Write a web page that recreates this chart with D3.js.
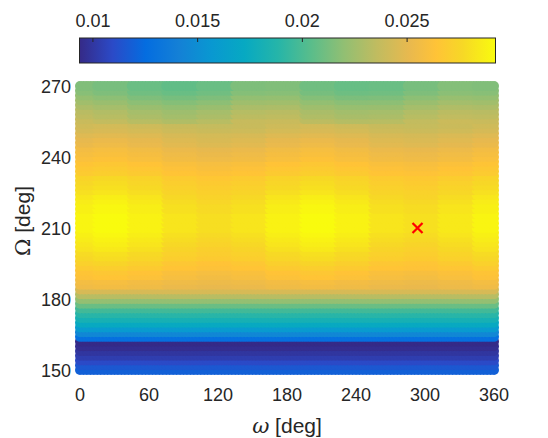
<!DOCTYPE html>
<html lang="en">
<head>
    <meta charset="UTF-8">
    <title>Omega / RAAN map</title>
    <script src="https://d3js.org/d3.v7.min.js"></script>
    <style>
        body { margin: 0; background: #fff; }
        svg text { font-family: Helvetica, "Liberation Sans", Arial, sans-serif; fill: #262626; }
    </style>
</head>
<body>
    <div id="chart"></div>
    <script>
        // grid of the map: columns in omega, rows in RAAN (deg)
        const OMEGA_COLS = [0, 30, 60, 90, 120, 150, 180, 210, 240, 270, 300, 330, 360];
        const RAAN_ROWS = [270, 268, 266, 264, 262, 260, 258, 256, 254, 252, 250, 248, 246, 244, 242, 240,
            238, 236, 234, 232, 230, 228, 226, 224, 222, 220, 218, 216, 214, 212, 210, 208, 206, 204, 202,
            200, 198, 196, 194, 192, 190, 188, 186, 184, 182, 180, 178, 176, 174, 172, 170, 168, 166, 164,
            162, 160, 158, 156, 154, 152, 150];

        // one row per RAAN value, one entry per omega column
        const FIELD = [
            [0.02152,0.02128,0.02088,0.02064,0.02088,0.02144,0.02152,0.02104,0.02080,0.02088,0.02128,0.02160,0.02152],
            [0.02172,0.02148,0.02108,0.02084,0.02108,0.02164,0.02172,0.02124,0.02100,0.02108,0.02148,0.02180,0.02172],
            [0.02211,0.02187,0.02147,0.02123,0.02147,0.02203,0.02211,0.02163,0.02139,0.02147,0.02187,0.02219,0.02211],
            [0.02251,0.02227,0.02187,0.02163,0.02187,0.02243,0.02251,0.02203,0.02179,0.02187,0.02227,0.02259,0.02251],
            [0.02291,0.02267,0.02227,0.02203,0.02227,0.02283,0.02291,0.02243,0.02219,0.02227,0.02267,0.02299,0.02291],
            [0.02330,0.02306,0.02266,0.02242,0.02266,0.02322,0.02330,0.02282,0.02258,0.02266,0.02306,0.02338,0.02330],
            [0.02350,0.02326,0.02286,0.02262,0.02286,0.02342,0.02350,0.02302,0.02278,0.02286,0.02326,0.02358,0.02350],
            [0.02390,0.02366,0.02326,0.02302,0.02326,0.02382,0.02390,0.02342,0.02318,0.02326,0.02366,0.02398,0.02390],
            [0.02414,0.02426,0.02410,0.02386,0.02374,0.02386,0.02410,0.02426,0.02410,0.02386,0.02378,0.02394,0.02414],
            [0.02434,0.02446,0.02430,0.02406,0.02394,0.02406,0.02430,0.02446,0.02430,0.02406,0.02398,0.02414,0.02434],
            [0.02473,0.02485,0.02469,0.02445,0.02433,0.02445,0.02469,0.02485,0.02469,0.02445,0.02437,0.02453,0.02473],
            [0.02507,0.02525,0.02501,0.02465,0.02447,0.02465,0.02501,0.02525,0.02501,0.02465,0.02453,0.02477,0.02507],
            [0.02527,0.02545,0.02521,0.02485,0.02467,0.02485,0.02521,0.02545,0.02521,0.02485,0.02473,0.02497,0.02527],
            [0.02567,0.02585,0.02561,0.02525,0.02507,0.02525,0.02561,0.02585,0.02561,0.02525,0.02513,0.02537,0.02567],
            [0.02587,0.02605,0.02581,0.02545,0.02527,0.02545,0.02581,0.02605,0.02581,0.02545,0.02533,0.02557,0.02587],
            [0.02607,0.02625,0.02601,0.02565,0.02547,0.02565,0.02601,0.02625,0.02601,0.02565,0.02553,0.02577,0.02607],
            [0.02646,0.02664,0.02640,0.02604,0.02586,0.02604,0.02640,0.02664,0.02640,0.02604,0.02592,0.02616,0.02646],
            [0.02666,0.02684,0.02660,0.02624,0.02606,0.02624,0.02660,0.02684,0.02660,0.02624,0.02612,0.02636,0.02666],
            [0.02686,0.02704,0.02680,0.02644,0.02626,0.02644,0.02680,0.02704,0.02680,0.02644,0.02632,0.02656,0.02686],
            [0.02740,0.02763,0.02732,0.02684,0.02660,0.02684,0.02732,0.02763,0.02732,0.02684,0.02668,0.02700,0.02740],
            [0.02760,0.02783,0.02752,0.02704,0.02680,0.02704,0.02752,0.02783,0.02752,0.02704,0.02688,0.02720,0.02760],
            [0.02779,0.02802,0.02771,0.02723,0.02699,0.02723,0.02771,0.02802,0.02771,0.02723,0.02707,0.02739,0.02779],
            [0.02799,0.02822,0.02791,0.02743,0.02719,0.02743,0.02791,0.02822,0.02791,0.02743,0.02727,0.02759,0.02799],
            [0.02833,0.02863,0.02823,0.02763,0.02733,0.02763,0.02823,0.02863,0.02823,0.02763,0.02743,0.02783,0.02833],
            [0.02853,0.02883,0.02843,0.02783,0.02753,0.02783,0.02843,0.02883,0.02843,0.02783,0.02763,0.02803,0.02853],
            [0.02873,0.02903,0.02863,0.02803,0.02773,0.02803,0.02863,0.02903,0.02863,0.02803,0.02783,0.02823,0.02873],
            [0.02873,0.02903,0.02863,0.02803,0.02773,0.02803,0.02863,0.02903,0.02863,0.02803,0.02783,0.02823,0.02873],
            [0.02893,0.02920,0.02883,0.02823,0.02793,0.02823,0.02883,0.02920,0.02883,0.02823,0.02803,0.02843,0.02893],
            [0.02893,0.02920,0.02883,0.02823,0.02793,0.02823,0.02883,0.02920,0.02883,0.02823,0.02803,0.02843,0.02893],
            [0.02893,0.02920,0.02883,0.02823,0.02793,0.02823,0.02883,0.02920,0.02883,0.02823,0.02803,0.02843,0.02893],
            [0.02893,0.02920,0.02883,0.02823,0.02793,0.02823,0.02883,0.02920,0.02883,0.02823,0.02803,0.02843,0.02893],
            [0.02873,0.02903,0.02863,0.02803,0.02773,0.02803,0.02863,0.02903,0.02863,0.02803,0.02783,0.02823,0.02873],
            [0.02853,0.02883,0.02843,0.02783,0.02753,0.02783,0.02843,0.02883,0.02843,0.02783,0.02763,0.02803,0.02853],
            [0.02833,0.02863,0.02823,0.02763,0.02733,0.02763,0.02823,0.02863,0.02823,0.02763,0.02743,0.02783,0.02833],
            [0.02813,0.02843,0.02803,0.02743,0.02713,0.02743,0.02803,0.02843,0.02803,0.02743,0.02723,0.02763,0.02813],
            [0.02779,0.02802,0.02771,0.02723,0.02699,0.02723,0.02771,0.02802,0.02771,0.02723,0.02707,0.02739,0.02779],
            [0.02760,0.02783,0.02752,0.02704,0.02680,0.02704,0.02752,0.02783,0.02752,0.02704,0.02688,0.02720,0.02760],
            [0.02720,0.02743,0.02712,0.02664,0.02640,0.02664,0.02712,0.02743,0.02712,0.02664,0.02648,0.02680,0.02720],
            [0.02686,0.02704,0.02680,0.02644,0.02626,0.02644,0.02680,0.02704,0.02680,0.02644,0.02632,0.02656,0.02686],
            [0.02646,0.02664,0.02640,0.02604,0.02586,0.02604,0.02640,0.02664,0.02640,0.02604,0.02592,0.02616,0.02646],
            [0.02626,0.02644,0.02620,0.02584,0.02566,0.02584,0.02620,0.02644,0.02620,0.02584,0.02572,0.02596,0.02626],
            [0.02573,0.02585,0.02569,0.02545,0.02533,0.02545,0.02569,0.02585,0.02569,0.02545,0.02537,0.02553,0.02573],
            [0.02553,0.02565,0.02549,0.02525,0.02513,0.02525,0.02549,0.02565,0.02549,0.02525,0.02517,0.02533,0.02553],
            [0.02445,0.02445,0.02445,0.02445,0.02445,0.02445,0.02445,0.02445,0.02445,0.02445,0.02445,0.02445,0.02445],
            [0.02326,0.02326,0.02326,0.02326,0.02326,0.02326,0.02326,0.02326,0.02326,0.02326,0.02326,0.02326,0.02326],
            [0.02207,0.02207,0.02207,0.02207,0.02207,0.02207,0.02207,0.02207,0.02207,0.02207,0.02207,0.02207,0.02207],
            [0.02088,0.02088,0.02088,0.02088,0.02088,0.02088,0.02088,0.02088,0.02088,0.02088,0.02088,0.02088,0.02088],
            [0.01969,0.01969,0.01969,0.01969,0.01969,0.01969,0.01969,0.01969,0.01969,0.01969,0.01969,0.01969,0.01969],
            [0.01889,0.01889,0.01889,0.01889,0.01889,0.01889,0.01889,0.01889,0.01889,0.01889,0.01889,0.01889,0.01889],
            [0.01810,0.01810,0.01810,0.01810,0.01810,0.01810,0.01810,0.01810,0.01810,0.01810,0.01810,0.01810,0.01810],
            [0.01730,0.01730,0.01730,0.01730,0.01730,0.01730,0.01730,0.01730,0.01730,0.01730,0.01730,0.01730,0.01730],
            [0.01591,0.01591,0.01591,0.01591,0.01591,0.01591,0.01591,0.01591,0.01591,0.01591,0.01591,0.01591,0.01591],
            [0.01452,0.01452,0.01452,0.01452,0.01452,0.01452,0.01452,0.01452,0.01452,0.01452,0.01452,0.01452,0.01452],
            [0.01274,0.01274,0.01274,0.01274,0.01274,0.01274,0.01274,0.01274,0.01274,0.01274,0.01274,0.01274,0.01274],
            [0.00936,0.00936,0.00936,0.00936,0.00936,0.00936,0.00936,0.00936,0.00936,0.00936,0.00936,0.00936,0.00936],
            [0.00956,0.00956,0.00956,0.00956,0.00956,0.00956,0.00956,0.00956,0.00956,0.00956,0.00956,0.00956,0.00956],
            [0.00996,0.00996,0.00996,0.00996,0.00996,0.00996,0.00996,0.00996,0.00996,0.00996,0.00996,0.00996,0.00996],
            [0.01035,0.01035,0.01035,0.01035,0.01035,0.01035,0.01035,0.01035,0.01035,0.01035,0.01035,0.01035,0.01035],
            [0.01095,0.01095,0.01095,0.01095,0.01095,0.01095,0.01095,0.01095,0.01095,0.01095,0.01095,0.01095,0.01095],
            [0.01155,0.01155,0.01155,0.01155,0.01155,0.01155,0.01155,0.01155,0.01155,0.01155,0.01155,0.01155,0.01155],
            [0.01194,0.01194,0.01194,0.01194,0.01194,0.01194,0.01194,0.01194,0.01194,0.01194,0.01194,0.01194,0.01194]
        ];

        // colour limits and ticks
        const C_LIM = [0.00936, 0.02922];
        const C_TICKS = [0.01, 0.015, 0.02, 0.025];
        const X_TICKS = [0, 60, 120, 180, 240, 300, 360];
        const Y_TICKS = [150, 180, 210, 240, 270];

        // the selected point (red cross)
        const MARK_OMEGA = [293.5];
        const MARK_RAAN = [210];

        // parula colormap stops
        const PARULA = ["#352a87", "#2b4ac7", "#046de0", "#1480d6", "#0998d1", "#07a9c2", "#25b5a9",
            "#59bd8b", "#91bf73", "#c0bc60", "#e9b94e", "#ffc337", "#f7d826", "#f9fb0e"];
        const PARULA_POS = [0, 0.0794, 0.159, 0.238, 0.317, 0.397, 0.476, 0.556, 0.635, 0.714, 0.794, 0.857, 0.921, 1];

        const width = 548, height = 438;

        const svg = d3.select("#chart").append("svg")
            .attr("width", width)
            .attr("height", height);

        const x = d3.scaleLinear().domain([0, 360]).range([80, 494]);
        const y = d3.scaleLinear().domain([150, 270]).range([370, 86]);

        const tScale = d3.scaleLinear().domain(C_LIM).range([0, 1]).clamp(true);
        const parula = d3.scaleLinear().domain(PARULA_POS).range(PARULA).interpolate(d3.interpolateRgb);
        const color = v => parula(tScale(v));

        // filled markers, one small dot every 3 deg of omega, coloured by nearest omega column
        const markerStep = 3;
        const dots = [];
        const rowsBottomUp = RAAN_ROWS.map((r, i) => i).reverse();
        rowsBottomUp.forEach(i => {
            for (let w = 0; w <= 360; w += markerStep) {
                const col = d3.bisectCenter(OMEGA_COLS, w);
                dots.push({w: w, r: RAAN_ROWS[i], v: FIELD[i][col]});
            }
        });

        svg.append("g").selectAll("circle")
            .data(dots)
            .join("circle")
            .attr("cx", d => x(d.w))
            .attr("cy", d => y(d.r))
            .attr("r", 5)
            .attr("fill", d => color(d.v));

        // red cross
        svg.append("g").selectAll("path")
            .data(MARK_OMEGA.map((w, i) => ({w: w, r: MARK_RAAN[i]})))
            .join("path")
            .attr("transform", d => `translate(${x(d.w)},${y(d.r)})`)
            .attr("d", "M-5,-5L5,5M-5,5L5,-5")
            .attr("stroke", "#ff0000")
            .attr("stroke-width", 2.2)
            .attr("fill", "none");

        // tick labels
        svg.append("g").selectAll("text")
            .data(X_TICKS)
            .join("text")
            .attr("x", d => x(d))
            .attr("y", 401)
            .attr("text-anchor", "middle")
            .attr("font-size", "18px")
            .text(d => d);

        svg.append("g").selectAll("text")
            .data(Y_TICKS)
            .join("text")
            .attr("x", 71)
            .attr("y", d => y(d) + 6.5)
            .attr("text-anchor", "end")
            .attr("font-size", "18px")
            .text(d => d);

        // axis labels
        const xl = svg.append("text")
            .attr("x", (x(0) + x(360)) / 2)
            .attr("y", 433)
            .attr("text-anchor", "middle")
            .attr("font-size", "21px");
        xl.append("tspan").attr("font-style", "italic").attr("font-family", "'DejaVu Serif', serif").text("ω");
        xl.append("tspan").text(" [deg]");

        const yl = svg.append("text")
            .attr("transform", `translate(30,221) rotate(-90)`)
            .attr("text-anchor", "middle")
            .attr("font-size", "21px");
        yl.append("tspan").attr("font-family", "'DejaVu Serif', serif").text("Ω");
        yl.append("tspan").text(" [deg]");

        // colorbar
        const cb = {x0: 79.5, x1: 495.5, y0: 38, y1: 63};
        const cx = d3.scaleLinear().domain(C_LIM).range([cb.x0, cb.x1]);

        const grad = svg.append("defs").append("linearGradient")
            .attr("id", "parulaGrad")
            .attr("x1", "0%").attr("x2", "100%").attr("y1", "0%").attr("y2", "0%");
        grad.selectAll("stop")
            .data(PARULA)
            .join("stop")
            .attr("offset", (d, i) => (PARULA_POS[i] * 100) + "%")
            .attr("stop-color", d => d);

        svg.append("rect")
            .attr("x", cb.x0).attr("y", cb.y0)
            .attr("width", cb.x1 - cb.x0).attr("height", cb.y1 - cb.y0)
            .attr("fill", "url(#parulaGrad)")
            .attr("stroke", "#262626")
            .attr("stroke-width", 1);

        svg.append("g").selectAll("line")
            .data(C_TICKS)
            .join("line")
            .attr("x1", d => cx(d)).attr("x2", d => cx(d))
            .attr("y1", cb.y0).attr("y2", cb.y0 + 4)
            .attr("stroke", "#262626")
            .attr("stroke-width", 1);

        svg.append("g").selectAll("text")
            .data(C_TICKS)
            .join("text")
            .attr("x", d => cx(d))
            .attr("y", 26.5)
            .attr("text-anchor", "middle")
            .attr("font-size", "18px")
            .text(d => d);
    </script>
</body>
</html>
